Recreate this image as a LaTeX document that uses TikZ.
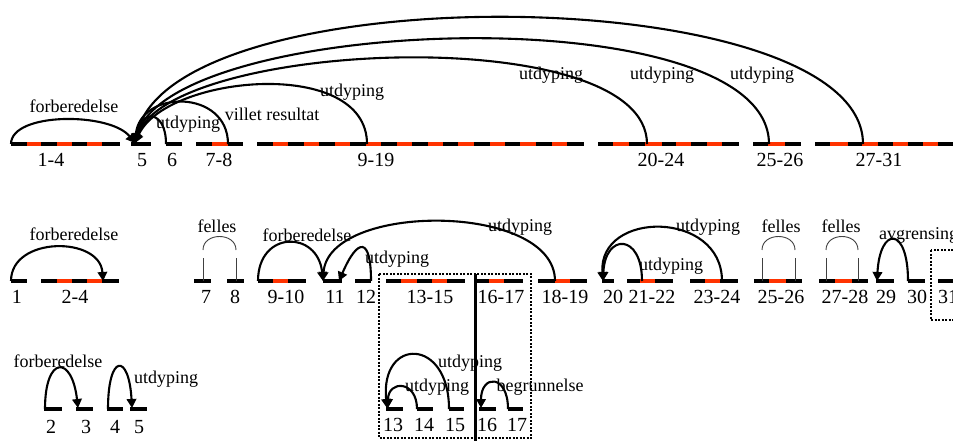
\documentclass[tikz,border=0pt]{standalone}
\usepackage{fontspec}
\setmainfont{Liberation Serif}
\usetikzlibrary{arrows.meta}
\definecolor{segred}{RGB}{255,51,0}
\tikzset{
 seg/.style={line width=3.3pt, black},
 redmark/.style={line width=3.3pt, segred},
 rel/.style={line width=2.1pt, -{Triangle[length=9pt,width=9.5pt]}},
 thinrel/.style={line width=0.9pt, black!75},
 lab/.style={font=\fontsize{18}{20}\selectfont, inner sep=0pt},
 num/.style={font=\fontsize{20}{22}\selectfont, inner sep=0pt},
 dotbox/.style={line width=2.5pt, dash pattern=on 2pt off 1.5pt},
}
\begin{document}
\begin{tikzpicture}[x=1pt,y=-1pt]
\useasboundingbox (0,0) rectangle (953,441);
\clip (0,0) rectangle (953,441);
% ---------- top row segments ----------
\foreach \a/\b in {11/120,131/151,166/182,196/243,257/584,598/739,753/801,815/960}
  \draw[seg] (\a,144)--(\b,144);
\foreach \a/\b in {27/41,57/72,87/102,212/228,273/288,304/319,335/350,366/381,397/412,428/443,458/474,490/505,520/536,552/567,613/629,645/662,676/691,707/722,768/785,830/848,862/878,893/908,923/938}
  \draw[redmark] (\a,144)--(\b,144);
% ---------- top row numbers ----------
\node[num] (n14) at (51,160) {1-4};
\node[num] (n5) at (142,160) {5};
\node[num] (n6) at (172,160) {6};
\node[num] (n78) at (219,160) {7-8};
\node[num] (n919) at (376,160) {9-19};
\node[num] (n2024) at (661,160) {20-24};
\node[num] (n2526) at (780,160) {25-26};
\node[num] (n2731) at (879,160) {27-31};
% ---------- top row arcs ----------
\coordinate (t5) at (135,143);
\coordinate (t14) at (11,144);
\coordinate (t6) at (166,144);
\coordinate (t78) at (228,144);
\coordinate (t919) at (367,144);
\coordinate (t2024) at (647,144);
\coordinate (t2526) at (769,144);
\coordinate (t2731) at (863,144);
\draw[rel] (t14) .. controls +(0,-32) and +(-25,-31) .. (t5);
\draw[rel] (t6) .. controls +(0,-35) and +(5,-34) .. (t5);
\draw[rel] (t78) .. controls +(0,-55) and +(5,-54) .. (t5);
\draw[rel] (t919) .. controls +(0,-88) and +(30,-68) .. (t5);
\draw[rel] (t2024) .. controls +(0,-124) and +(35,-103) .. (t5);
\draw[rel] (t2526) .. controls +(0,-150) and +(35,-128) .. (t5);
\draw[rel] (t2731) .. controls +(0,-165) and +(35,-170) .. (t5);
\node[lab] (l1) at (74,106) {forberedelse};
\node[lab] (l2) at (188,124) {utdyping};
\node[lab] (l3) at (272,114) {villet resultat};
\node[lab] (l4) at (352,92) {utdyping};
\node[lab] (l5) at (551,75) {utdyping};
\node[lab] (l6) at (662,75) {utdyping};
\node[lab] (l7) at (762,75) {utdyping};
% ---------- middle row segments ----------
\foreach \a/\b in {11/27,41/119,194/211,227/244,258/306,323/342,355/371,386/465,477/523,538/587,602/614,627/673,690/738,754/802,819/868,876/894,908/925,938/960}
  \draw[seg] (\a,281)--(\b,281);
\foreach \a/\b in {57/72,87/102,273/288,401/417,432/447,489/504,555/570,640/655,705/720,769/786,835/852}
  \draw[redmark] (\a,281)--(\b,281);
% ---------- middle row numbers ----------
\foreach \t/\x in {1/17,2-4/75,7/206,8/235,9-10/286,11/335,12/366,13-15/430,16-17/501,18-19/565,20/613,21-22/652,23-24/717,25-26/781,27-28/845,29/886,30/917}
  \node[num] (m-\t) at (\x,297) {\t};
\node[num,anchor=west] (m-31) at (938,297) {31};
% ---------- middle row arcs ----------
\coordinate (m1) at (11,281);
\coordinate (m24) at (103,281);
\coordinate (m910) at (258,281);
\coordinate (m11) at (323,281);
\coordinate (m12) at (371,281);
\coordinate (m11b) at (339,281);
\coordinate (m1819) at (555,281);
\coordinate (m20) at (603,281);
\coordinate (m2122) at (642,281);
\coordinate (m2324) at (722,281);
\coordinate (m30) at (908,281);
\coordinate (m29) at (877,281);
\draw[rel] (m1) .. controls +(0,-45) and +(-3,-45) .. (m24);
\draw[rel] (m910) .. controls +(0,-51) and +(-5,-51) .. (m11);
\draw[rel] (m12) .. controls +(0,-44) and +(19,-44) .. (m11b);
\draw[rel] (m1819) .. controls +(0,-79) and +(5,-79) .. (m11);
\draw[rel] (m2122) .. controls +(0,-48) and +(2,-48) .. (m20);
\draw[rel] (m2324) .. controls +(0,-71) and +(-5,-71) .. (m20);
\draw[rel] (m30) .. controls +(0,-55) and +(3,-55) .. (m29);
% felles
\foreach \p/\q in {203/236,762/795,826/858}{
  \draw[thinrel] (\p,281)--(\p,258);
  \draw[thinrel] (\q,281)--(\q,258);
  \draw[thinrel] (\p,250) .. controls (\p,232) and (\q,232) .. (\q,250);
}
\node[lab] (ml1) at (74,234) {forberedelse};
\node[lab] (ml2) at (217,226) {felles};
\node[lab] (ml3) at (307,235) {forberedelse};
\node[lab] (ml4) at (397,259) {utdyping};
\node[lab] (ml5) at (520,227) {utdyping};
\node[lab] (ml6) at (671,266) {utdyping};
\node[lab] (ml7) at (708,227) {utdyping};
\node[lab] (ml8) at (781,226) {felles};
\node[lab] (ml9) at (841,226) {felles};
\node[lab,anchor=west] (ml10) at (879,235) {avgrensing};
% boxes
\draw[dotbox] (379,274) rectangle (531,438);
\draw[line width=3pt] (475,274)--(475,441);
\draw[dotbox] (931,250) rectangle (970,320);
% ---------- bottom row ----------
\foreach \a/\b in {44/62,76/93,107/123,130/147,386/403,417/433,449/464,479/496,508/523}
  \draw[seg] (\a,409)--(\b,409);
\foreach \t/\x in {2/51,3/86,4/115,5/139}
  \node[num] (b-\t) at (\x,427) {\t};
\foreach \t/\x in {13/393,14/424,15/455,16/487,17/517}
  \node[num] (b-\t) at (\x,425) {\t};
\coordinate (b2) at (45,409);
\coordinate (b3) at (78,408);
\coordinate (b4) at (108,409);
\coordinate (b5) at (132,408);
\coordinate (b15) at (449,409);
\coordinate (b13) at (387,408);
\coordinate (b14) at (417,409);
\coordinate (b13b) at (388,408);
\coordinate (b17) at (508,409);
\coordinate (b16) at (481,408);
\draw[rel] (b2) .. controls +(0,-54) and +(-6,-53) .. (b3);
\draw[rel] (b4) .. controls +(0,-56) and +(-3,-55) .. (b5);
\draw[rel] (b15) .. controls +(0,-72) and +(-7,-71) .. (b13);
\draw[rel] (b14) .. controls +(0,-29) and +(0,-28) .. (b13b);
\draw[rel] (b17) .. controls +(0,-35) and +(0,-34) .. (b16);
\node[lab] (bl1) at (58,361) {forberedelse};
\node[lab] (bl2) at (166,379) {utdyping};
\node[lab] (bl3) at (470,363) {utdyping};
\node[lab] (bl4) at (437,387) {utdyping};
\node[lab] (bl5) at (540,387) {begrunnelse};
\end{tikzpicture}
\end{document}
